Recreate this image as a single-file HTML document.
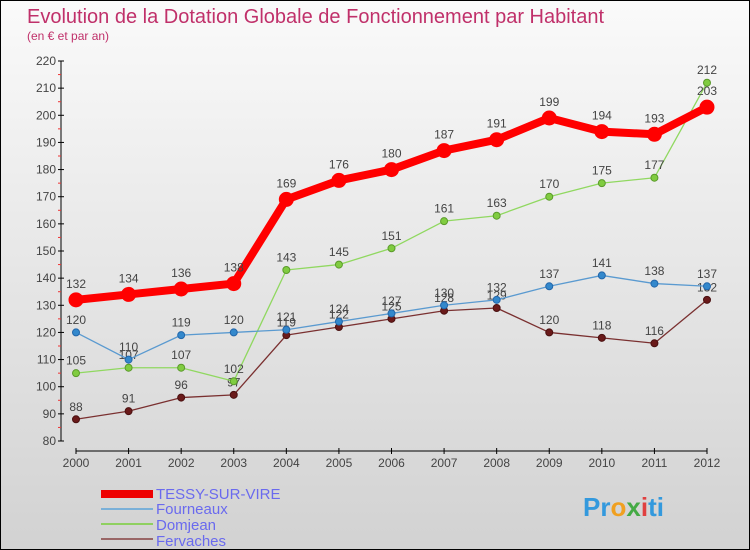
<!DOCTYPE html>
<html><head><meta charset="utf-8"><style>
body{margin:0}
#c{width:748px;height:548px;border:1px solid #000;position:relative;background:linear-gradient(#fafafa,#d2d2d2);font-family:"Liberation Sans",sans-serif;overflow:hidden}
</style></head><body>
<div id="c">
<svg id="s" width="748" height="548" xmlns="http://www.w3.org/2000/svg">
<text x="26" y="22" font-size="20" fill="#c0306a">Evolution de la Dotation Globale de Fonctionnement par Habitant</text>
<text x="26" y="39" font-size="12" fill="#c0306a">(en € et par an)</text>
<g id="axes"></g><g id="series"></g>
<g>
<rect x="100" y="489" width="52" height="8" fill="#e00"/>
<text x="155" y="498" font-size="15" fill="#6a6aee">TESSY-SUR-VIRE</text>
<line x1="100" y1="508" x2="152" y2="508" stroke="#7ab0d8" stroke-width="2"/>
<text x="155" y="513" font-size="15" fill="#6a6aee">Fourneaux</text>
<line x1="100" y1="523" x2="152" y2="523" stroke="#8fd060" stroke-width="2"/>
<text x="155" y="529" font-size="15" fill="#6a6aee">Domjean</text>
<line x1="100" y1="538" x2="152" y2="538" stroke="#996666" stroke-width="2"/>
<text x="155" y="545" font-size="15" fill="#6a6aee">Fervaches</text>
</g>
<text x="582" y="515" font-size="26" font-weight="bold" fill="#3399dd">Pr<tspan fill="#f0a020">o</tspan><tspan fill="#44aa44">x</tspan><tspan fill="#e04040">i</tspan><tspan fill="#3399dd">ti</tspan></text>
</svg></div>
<script>
const years=[2000,2001,2002,2003,2004,2005,2006,2007,2008,2009,2010,2011,2012];
const tessy=[132,134,136,138,169,176,180,187,191,199,194,193,203];
const fourneaux=[120,110,119,120,121,124,127,130,132,137,141,138,137];
const domjean=[105,107,107,102,143,145,151,161,163,170,175,177,212];
const fervaches=[88,91,96,97,119,122,125,128,129,120,118,116,132];
const yTicks=[80,90,100,110,120,130,140,150,160,170,180,190,200,210,220];
const NS="http://www.w3.org/2000/svg";
const X=i=>75+i*(706-75)/12, Y=v=>440-(v-80)*380/140;
function mk(t,a,p){const e=document.createElementNS(NS,t);for(const k in a)e.setAttribute(k,a[k]);p.appendChild(e);return e;}
const ax=document.getElementById('axes'), sg=document.getElementById('series');
let l=mk('line',{x1:60,y1:60,x2:60,y2:440,stroke:'#000'},ax);


yTicks.forEach(v=>{mk('line',{x1:57,y1:Y(v),x2:63,y2:Y(v),stroke:'#000'},ax);
 if(v<220)mk('line',{x1:57,y1:Y(v+5),x2:60,y2:Y(v+5),stroke:'#e33'},ax);
 const t=mk('text',{x:55,y:Y(v)+4,'font-size':12,fill:'#444','text-anchor':'end'},ax);t.textContent=v;
 
 });
l=mk('line',{x1:75,y1:450,x2:706,y2:450,stroke:'#000'},ax);


years.forEach((y,i)=>{mk('line',{x1:X(i),y1:447,x2:X(i),y2:453,stroke:'#000'},ax);
 const t=mk('text',{x:X(i),y:466,'font-size':12,fill:'#444','text-anchor':'middle'},ax);t.textContent=y;
 
 });
function series(d,name,col,w,r,dot,dotStroke){
 const g=mk('g',{},sg);
 
 
 mk('polyline',{points:d.map((v,i)=>X(i)+','+Y(v)).join(' '),fill:'none',stroke:col,'stroke-width':w,'stroke-linejoin':'round'},g);
 d.forEach((v,i)=>{const c=mk('circle',{cx:X(i),cy:Y(v),r:r,fill:dot,stroke:dotStroke,'stroke-width':1},g);
  
  
  const t=mk('text',{x:X(i),y:Y(v)-(r+5),'font-size':12,fill:'#444','text-anchor':'middle'},g);t.textContent=v;
  
  });
}
series(fervaches,'fervaches','#7a3030',1.3,3.5,'#6a1a1a','#4a1010');
series(domjean,'domjean','#90d860',1.3,3.5,'#80cc40','#5a9a2a');
series(fourneaux,'fourneaux','#5a9ad0',1.3,3.5,'#3388cc','#2266aa');
series(tessy,'tessy','#f00',8,7,'#f00','#f00');
</script>
</body></html>
